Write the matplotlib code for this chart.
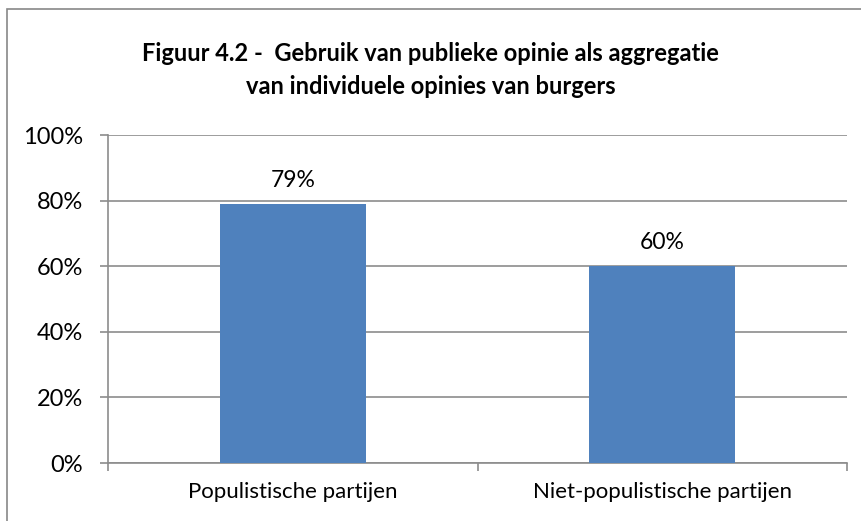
import matplotlib.pyplot as plt
from matplotlib.patches import Rectangle
from matplotlib.ticker import FuncFormatter

categories = ['Populistische partijen', 'Niet-populistische partijen']
values = [79, 60]
yticks = [0, 20, 40, 60, 80, 100]

plt.rcParams['font.family'] = ['Lato', 'DejaVu Sans']

W, H = 861, 521
fig = plt.figure(figsize=(W / 100, H / 100), dpi=100)

# outer chart border (cut off at right and bottom like the reference)
fig.patches.append(Rectangle((6.5 / W, -0.05), 1.2, 1 - 9.5 / H + 0.05,
                             transform=fig.transFigure, fill=False,
                             edgecolor='#888888', linewidth=1.2))

ax = fig.add_axes([108 / W, 1 - 463 / H, (847 - 108) / W, (463 - 135) / H])
x = range(len(categories))
ax.bar(x, values, width=0.395, color='#4f81bd', zorder=3)
for xi, v in zip(x, values):
    ax.text(xi, v + 4, f'{v}%', ha='center', va='bottom', fontsize=16.5)

ax.set_xlim(-0.5, 1.5)
ax.set_ylim(0, 100)
ax.set_yticks(yticks)
ax.yaxis.set_major_formatter(FuncFormatter(lambda v, p: f'{v:.0f}%'))
ax.grid(axis='y', color='#8c8c8c', linewidth=1.2, zorder=0)

ax.set_xticks([-0.5, 0.5, 1.5])
ax.set_xticklabels([])
ax.set_xticks([0, 1], minor=True)
ax.set_xticklabels(categories, minor=True, fontsize=16)
ax.tick_params(axis='x', which='minor', length=0, pad=14)
ax.tick_params(axis='x', which='major', length=6, color='#8c8c8c', width=1.2)
ax.tick_params(axis='y', length=6, color='#8c8c8c', width=1.2, labelsize=17, pad=12)

for s in ['top', 'right']:
    ax.spines[s].set_visible(False)
for s in ['left', 'bottom']:
    ax.spines[s].set_color('#8c8c8c')
    ax.spines[s].set_linewidth(1.2)

fig.text(0.5, 1 - 70 / H,
         'Figuur 4.2 -  Gebruik van publieke opinie als aggregatie\nvan individuele opinies van burgers',
         ha='center', va='center', fontsize=17, fontweight='bold', linespacing=1.55)

fig.savefig('out.png', dpi=100)
